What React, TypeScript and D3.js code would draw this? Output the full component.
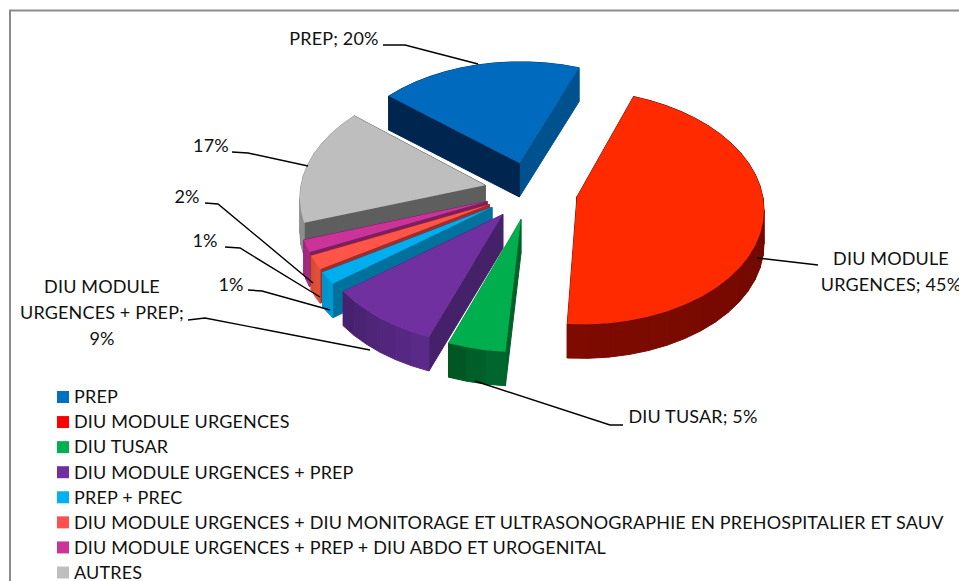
import React from "react";
import * as d3 from "d3";

const categories = ["PREP","DIU MODULE URGENCES","DIU TUSAR","DIU MODULE URGENCES + PREP","PREP + PREC","DIU MODULE URGENCES + DIU MONITORAGE ET ULTRASONOGRAPHIE EN PREHOSPITALIER ET SAUV","DIU MODULE URGENCES + PREP + DIU ABDO ET UROGENITAL","AUTRES"];
const values = [19.6,45.4,4.5,8.9,1.7,1.9,1.7,16.3];
const legendColors = ["#0070C0","#FF0000","#00B050","#7030A0","#00B0F0","#FF5050","#CC3399","#BFBFBF"];
const topColors = ["#006BBE","#FF2A00","#00AE4E","#7030A0","#00AEEF","#FF5548","#CC3399","#BEBEBE"];
const startWalls = ["#00264F","#7a0c00","#00602A","#45216A","#00709C","#A52A2A","#7A1F60","#5E5E5E"];
const endWalls = ["#00528F","#7a0c00","#009A45","#5A2682","#006D9A","#A52A2A","#7A1F60","#5E5E5E"];
const outerA = ["#003A70","#660800","#00662E","#5A2A88","#0098D0","#E04F38","#A52A80","#8E8E8E"];
const outerB = ["#004A80","#7F0A00","#004F1F","#431F68","#0090C4","#D04830","#982678","#9A9A9A"];

const labelLines: string[][] = [["PREP; 20%"],["DIU MODULE","URGENCES; 45%"],["DIU TUSAR; 5%"],["DIU MODULE","URGENCES + PREP;","9%"],["1%"],["1%"],["2%"],["17%"]];
const labelX = [334,891,693,102,231,205,187,211];
const labelY = [39,259,417,287,285,241,197,146];
const leaderXs = [[383,405,478],[757,818],[475,610,623],[188,205,370],[248,262,330],[225,240,320],[205,218,313],[232,248,308]];
const leaderYs = [[45,45,64],[258,265],[381,425,425],[320,318,350],[290,291,310],[247,248,297],[203,204,283],[152,153,166]];

const W = 959, H = 581;
const CX = 531, CY = 190.5, RX = 185, RY = 115, K = 0.09, DEPTH = 34, EXPLODE = 0.253;
const START = -50 * Math.PI / 180;

function project(u: number, v: number, drop = 0): [number, number] {
  const s = 1 / (1 - K * v);
  return [CX + RX * u * s, CY + RY * v * s + drop];
}
const toPath = d3.line<[number, number]>();

export default function App() {
  const arcs = d3.pie<number>().sort(null).startAngle(START).endAngle(START + 2 * Math.PI)(values);
  const faces: React.ReactNode[] = [];
  const ordered = arcs.map((a, i) => ({ a, i, mid: (a.startAngle + a.endAngle) / 2 }))
    .sort((p, q) => (-Math.cos(p.mid)) - (-Math.cos(q.mid)));
  ordered.forEach(({ a, i, mid }) => {
    const ou = EXPLODE * Math.sin(mid), ov = -EXPLODE * Math.cos(mid);
    const n = Math.max(2, Math.ceil((a.endAngle - a.startAngle) / (6 * Math.PI / 180)));
    const angle = d3.scaleLinear().domain([0, n]).range([a.startAngle, a.endAngle]);
    const rim = d3.range(n + 1).map((k) => [ou + Math.sin(angle(k)), ov - Math.cos(angle(k))] as [number, number]);
    const shade = d3.scaleLinear<string>().domain([0, n]).range([outerA[i], outerB[i]]);
    const walls: { d: string; fill: string; y: number }[] = [];
    const wallOf = (p: [number, number], q: [number, number], fill: string) => {
      const a1 = project(p[0], p[1]), a2 = project(q[0], q[1]);
      const b1 = project(p[0], p[1], DEPTH), b2 = project(q[0], q[1], DEPTH);
      walls.push({ d: toPath([a1, a2, b2, b1])! + "Z", fill, y: (a1[1] + a2[1]) / 2 });
    };
    const apex: [number, number] = [ou, ov];
    wallOf(apex, rim[0], startWalls[i]);
    wallOf(apex, rim[n], endWalls[i]);
    for (let k = 0; k < n; k++) wallOf(rim[k], rim[k + 1], shade(k));
    walls.sort((x, y) => x.y - y.y).forEach((w, k) =>
      faces.push(<path key={`w${i}-${k}`} d={w.d} fill={w.fill} stroke={w.fill} strokeWidth={1} strokeLinejoin="round" />));
    const top = [apex, ...rim].map((p) => project(p[0], p[1]));
    faces.push(<path key={`t${i}`} d={toPath(top)! + "Z"} fill={topColors[i]} />);
  });

  return (
    <svg width={W} height={H} viewBox={`0 0 ${W} ${H}`} style={{ position: "fixed", left: 0, top: 0, background: "#fff" }}
      fontFamily="Lato, 'Open Sans', sans-serif" letterSpacing={0.15}>
      <path d={`M10 ${H}V10.5H${W}`} fill="none" stroke="#8c8c8c" strokeWidth={2} />
      {faces}
      {leaderXs.map((xs, i) => (
        <path key={i} d={toPath(xs.map((x, k) => [x, leaderYs[i][k]] as [number, number]))!} fill="none" stroke="#000" strokeWidth={1.4} />
      ))}
      {labelLines.map((lines, i) => lines.map((t, k) => (
        <text key={`${i}-${k}`} x={labelX[i]} y={labelY[i] + k * 26} dy="0.35em" textAnchor="middle" fontSize={18} fill="#111">{t}</text>
      )))}
      {categories.map((c, i) => {
        const y = d3.scaleLinear().domain([0, 7]).range([397, 572.5])(i);
        return (
          <g key={c}>
            <rect x={57} y={y - 6} width={12} height={12} fill={legendColors[i]} />
            <text x={74} y={y} dy="0.35em" fontSize={18} fill="#111">{c}</text>
          </g>
        );
      })}
    </svg>
  );
}
